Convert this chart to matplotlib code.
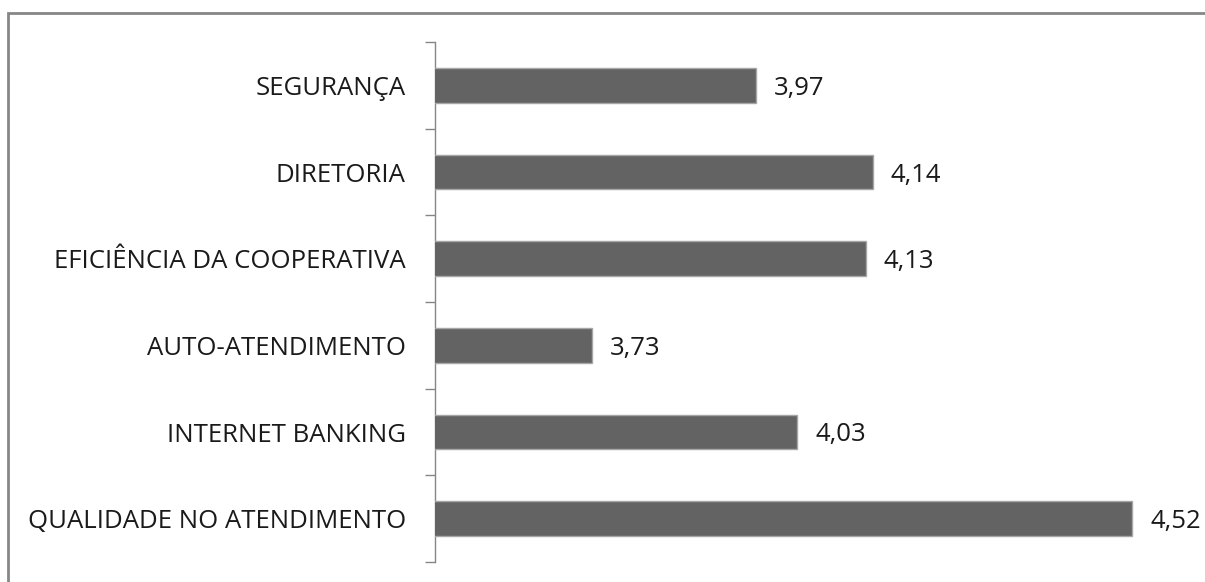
import matplotlib.pyplot as plt
import matplotlib.patches as patches
import numpy as np

categories = ['QUALIDADE NO ATENDIMENTO', 'INTERNET BANKING', 'AUTO-ATENDIMENTO',
              'EFICIÊNCIA DA COOPERATIVA', 'DIRETORIA', 'SEGURANÇA']
values = [4.52, 4.03, 3.73, 4.13, 4.14, 3.97]

plt.rcParams['font.family'] = ['Open Sans', 'DejaVu Sans']

fig = plt.figure(figsize=(12.05, 5.82), dpi=100)
W, H = 1205, 582
ax = fig.add_axes([435 / W, 20 / H, (1187 - 435) / W, 520 / H])

y = np.arange(len(categories))
ax.barh(y, values, height=0.4, color='#636363', edgecolor='#a6a6a6', linewidth=1.0, zorder=3)
ax.set_xlim(3.5, 4.6)
ax.set_ylim(-0.5, len(categories) - 0.5)

for yi, v in zip(y, values):
    ax.text(v + 0.026, yi, f'{v:.2f}'.replace('.', ','), va='center_baseline', ha='left',
            fontsize=18.5, color='#1a1a1a')

# boundary ticks on the axis, labels centred between them
ax.set_yticks(np.arange(-0.5, len(categories), 1.0))
ax.set_yticklabels([])
ax.set_yticks(y, minor=True)
ax.set_yticklabels(categories, minor=True, fontsize=18.5, color='#1a1a1a')
ax.tick_params(axis='y', which='major', length=7, width=1, color='#868686')
ax.tick_params(axis='y', which='minor', length=0, pad=21)

ax.set_xticks([])
for side in ['top', 'right', 'bottom']:
    ax.spines[side].set_visible(False)
ax.spines['left'].set_color('#868686')
ax.spines['left'].set_linewidth(1)

# chart frame (top and left edges visible)
frame = patches.Rectangle((8 / W, -0.1), 1.2, (582 - 13) / H + 0.1, transform=fig.transFigure,
                          fill=False, edgecolor='#868686', linewidth=2)
fig.patches.append(frame)

fig.savefig('out.png', dpi=100)
